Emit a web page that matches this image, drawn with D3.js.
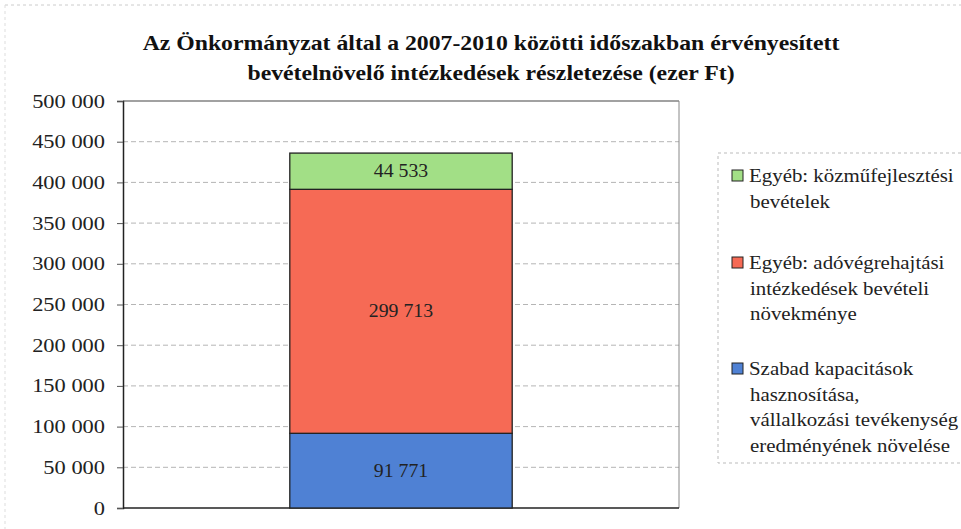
<!DOCTYPE html>
<html><head><meta charset="utf-8">
<script src="https://cdn.jsdelivr.net/npm/d3@7"></script>
<style>body{margin:0;background:#fff}</style>
</head><body>
<svg id="c" width="961" height="529"></svg>
<script>
const titleLines = ["Az Önkormányzat által a 2007-2010 közötti időszakban érvényesített", "bevételnövelő intézkedések részletezése (ezer Ft)"];
const categories = ["2007-2010"];
const seriesNames = ["Szabad kapacitások hasznosítása, vállalkozási tevékenység eredményének növelése", "Egyéb: adóvégrehajtási intézkedések bevételi növekménye", "Egyéb: közműfejlesztési bevételek"];
const seriesValues = [91771, 299713, 44533];
const valueLabels = ["91 771", "299 713", "44 533"];
const seriesColors = ["#4f81d4", "#f66a55", "#a2df86"];
const legendLines = [
  ["Egyéb: közműfejlesztési", "bevételek"],
  ["Egyéb: adóvégrehajtási", "intézkedések bevételi", "növekménye"],
  ["Szabad kapacitások", "hasznosítása,", "vállalkozási tevékenység", "eredményének növelése"]
];
const yTicks = [0, 50000, 100000, 150000, 200000, 250000, 300000, 350000, 400000, 450000, 500000];

const FONT = '"Liberation Serif","Times New Roman",serif';
const svg = d3.select("#c");
const L = 123, R = 679, T = 101, B = 508;

function stretch(sel, f){
  sel.each(function(){
    const n = this.getComputedTextLength();
    d3.select(this).attr("textLength", n*f).attr("lengthAdjust","spacingAndGlyphs");
  });
}

svg.append("line").attr("x1",5).attr("x2",961).attr("y1",5).attr("y2",5).attr("stroke","#ccc").attr("stroke-dasharray","3,3");
svg.append("line").attr("x1",5).attr("x2",5).attr("y1",5).attr("y2",529).attr("stroke","#ddd").attr("stroke-dasharray","3,3");

const tt = svg.selectAll("text.title").data(titleLines).join("text").attr("class","title")
  .attr("x", 491).attr("y",(d,i)=>50+i*30).attr("text-anchor","middle")
  .style("font-family",FONT).style("font-weight","bold").style("font-size","21px").attr("fill","#111").text(d=>d);
stretch(tt, 1.13);

const y = d3.scaleLinear().domain([0,500000]).range([B,T]);
const x = d3.scaleBand().domain(categories).range([L,R]).paddingInner(0.6).paddingOuter(0.3);

svg.append("g").selectAll("line").data(yTicks.filter(t=>t>0 && t<500000)).join("line")
  .attr("x1",L).attr("x2",R).attr("y1",d=>y(d)).attr("y2",d=>y(d))
  .attr("stroke","#b5b5b5").attr("stroke-width",1).attr("stroke-dasharray","5,3");

const fmt = v => v===0 ? "0" : d3.format(",")(v).replace(/,/g," ");
const ax = svg.append("g").attr("transform",`translate(${L},0)`)
  .call(d3.axisLeft(y).tickValues(yTicks).tickFormat(fmt).tickSize(6).tickPadding(12));
ax.attr("font-family",null).attr("font-size",null);
ax.select(".domain").attr("stroke","#222").attr("stroke-width",1.5);
ax.selectAll(".tick line").attr("stroke","#555");
const tl = ax.selectAll(".tick text").style("font-family",FONT).style("font-size","19px").attr("fill","#222");
stretch(tl, 1.18);

svg.append("line").attr("x1",L).attr("x2",R).attr("y1",T).attr("y2",T).attr("stroke","#444").attr("stroke-width",1.2);
svg.append("line").attr("x1",R).attr("x2",R).attr("y1",T).attr("y2",B).attr("stroke","#888").attr("stroke-width",1);
svg.append("line").attr("x1",L).attr("x2",R).attr("y1",B).attr("y2",B).attr("stroke","#222").attr("stroke-width",1.5);

const stack = [];
let acc = 0;
seriesValues.forEach((v,i)=>{ stack.push({y0:acc,y1:acc+v,i}); acc+=v; });
const bx = x(categories[0]), bw = x.bandwidth();
svg.append("g").selectAll("rect").data(stack).join("rect")
  .attr("x",bx).attr("width",bw).attr("y",d=>y(d.y1)).attr("height",d=>y(d.y0)-y(d.y1))
  .attr("fill",d=>seriesColors[d.i]).attr("stroke","#222").attr("stroke-width",1.3);
const bl = svg.append("g").selectAll("text").data(stack).join("text")
  .attr("x",bx+bw/2).attr("y",d=>(y(d.y0)+y(d.y1))/2+6).attr("text-anchor","middle")
  .style("font-family",FONT).style("font-size","18px").attr("fill","#222").text(d=>valueLabels[d.i]);
stretch(bl, 1.1);

const lg = svg.append("g");
lg.append("rect").attr("x",718).attr("y",153).attr("width",260).attr("height",310)
  .attr("fill","none").attr("stroke","#bbb").attr("stroke-dasharray","3,3");
const legendOrder = [2,1,0];
const legendY = [181, 268, 374];
legendOrder.forEach((si,k)=>{
  lg.append("rect").attr("x",732).attr("y",legendY[k]-11).attr("width",11).attr("height",11)
    .attr("fill",seriesColors[si]).attr("stroke","#222").attr("stroke-width",1);
  legendLines[k].forEach((t,j)=>{
    const te = lg.append("text").attr("x",j===0?749:750).attr("y",legendY[k]+j*25.7+1)
      .style("font-family",FONT).style("font-size","18px").attr("fill","#222").text(t);
    stretch(te, 1.16);
  });
});
</script>
</body></html>
